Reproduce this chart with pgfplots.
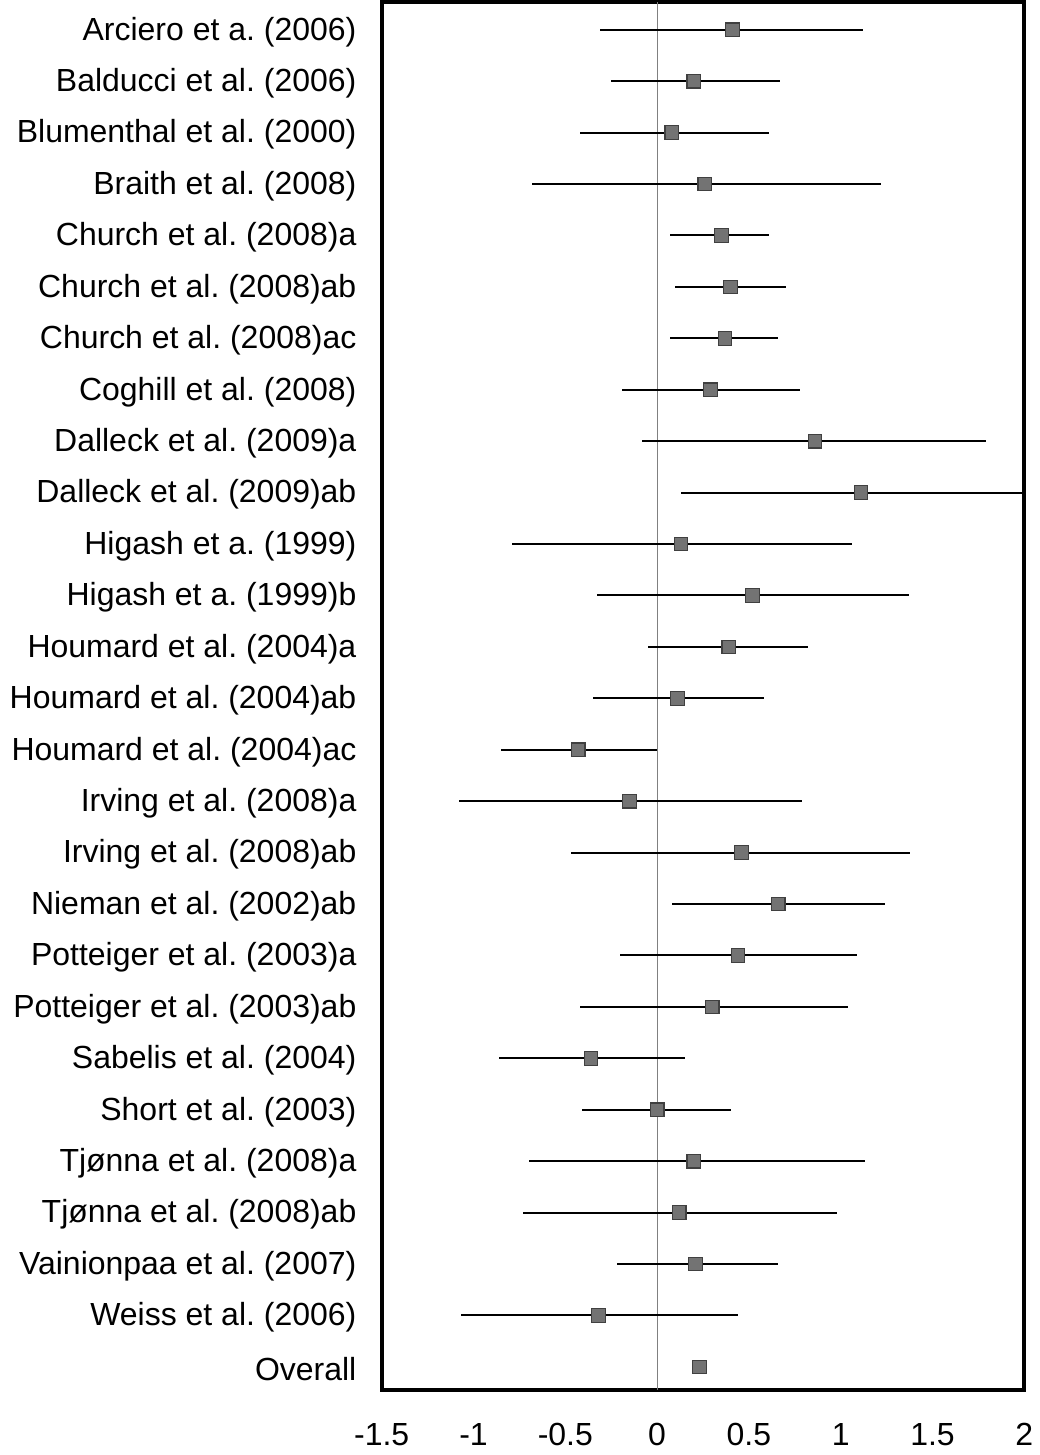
\documentclass[border=0pt]{standalone}
\usepackage{pgfplots}
\pgfplotsset{compat=1.18}
\usepackage{pgfplotstable}
\usepackage{fontspec}
\setmainfont{Liberation Sans}
\frenchspacing

\pgfplotstableread{
i  m     lo     hi
0  0.41  -0.31  1.12
1  0.20  -0.25  0.67
2  0.08  -0.42  0.61
3  0.26  -0.68  1.22
4  0.35   0.07  0.61
5  0.40   0.10  0.70
6  0.37   0.07  0.66
7  0.29  -0.19  0.78
8  0.86  -0.08  1.79
9  1.11   0.13  2.10
10 0.13  -0.79  1.06
11 0.52  -0.33  1.37
12 0.39  -0.05  0.82
13 0.11  -0.35  0.58
14 -0.43 -0.85  0.00
15 -0.15 -1.08  0.79
16 0.46  -0.47  1.38
17 0.66   0.08  1.24
18 0.44  -0.20  1.09
19 0.30  -0.42  1.04
20 -0.36 -0.86  0.15
21 0.00  -0.41  0.40
22 0.20  -0.70  1.13
23 0.12  -0.73  0.98
24 0.21  -0.22  0.66
25 -0.32 -1.07  0.44
}\studies

\pgfplotstableread{
i  m
26 0.23
}\overall

\begin{document}
\begin{tikzpicture}
\begin{axis}[
  scale only axis,
  width=321.5pt, height=694.5pt,
  xmin=-1.5, xmax=2,
  ymin=-0.54, ymax=26.45,
  y dir=reverse,
  xtick={-1.5,-1,-0.5,0,0.5,1,1.5,2},
  xticklabels={-1.5,-1,-0.5,0,0.5,1,1.5,2},
  ytick={0,...,26},
  yticklabels={
    {Arciero et a. (2006)},
    {Balducci et al. (2006)},
    {Blumenthal et al. (2000)},
    {Braith et al. (2008)},
    {Church et al. (2008)a},
    {Church et al. (2008)ab},
    {Church et al. (2008)ac},
    {Coghill et al. (2008)},
    {Dalleck et al. (2009)a},
    {Dalleck et al. (2009)ab},
    {Higash et a. (1999)},
    {Higash et a. (1999)b},
    {Houmard et al. (2004)a},
    {Houmard et al. (2004)ab},
    {Houmard et al. (2004)ac},
    {Irving et al. (2008)a},
    {Irving et al. (2008)ab},
    {Nieman et al. (2002)ab},
    {Potteiger et al. (2003)a},
    {Potteiger et al. (2003)ab},
    {Sabelis et al. (2004)},
    {Short et al. (2003)},
    {Tjønna et al. (2008)a},
    {Tjønna et al. (2008)ab},
    {Vainionpaa et al. (2007)},
    {Weiss et al. (2006)},
    {Overall}},
  major tick length=0pt,
  tick label style={font=\fontsize{16}{19}\selectfont},
  yticklabel style={inner sep=0pt, xshift=-12.5pt, yshift=-1pt},
  xticklabel style={inner sep=0pt, yshift=-16.5pt},
  axis line style={line width=1.8pt},
]
\addplot[gray, line width=0.5pt] coordinates {(0,-0.54) (0,26.45)};
\addplot[
  only marks,
  mark=square*,
  mark size=3.4pt,
  mark options={fill=black!55, draw=black!75, line width=0.6pt},
  error bars/.cd,
    x dir=both,
    x explicit,
    error mark=none,
    error bar style={black, line width=1pt},
] table[
  x=m, y=i,
  x error plus expr=\thisrow{hi}-\thisrow{m},
  x error minus expr=\thisrow{m}-\thisrow{lo},
] {\studies};
\addplot[
  only marks,
  mark=square*,
  mark size=3.4pt,
  mark options={fill=black!55, draw=black!75, line width=0.6pt},
] table[x=m, y=i] {\overall};
\end{axis}
\path ([shift={(-191pt,-32.5pt)}]current axis.south west) rectangle ([shift={(7.5pt,1pt)}]current axis.north east);
\end{tikzpicture}
\end{document}
